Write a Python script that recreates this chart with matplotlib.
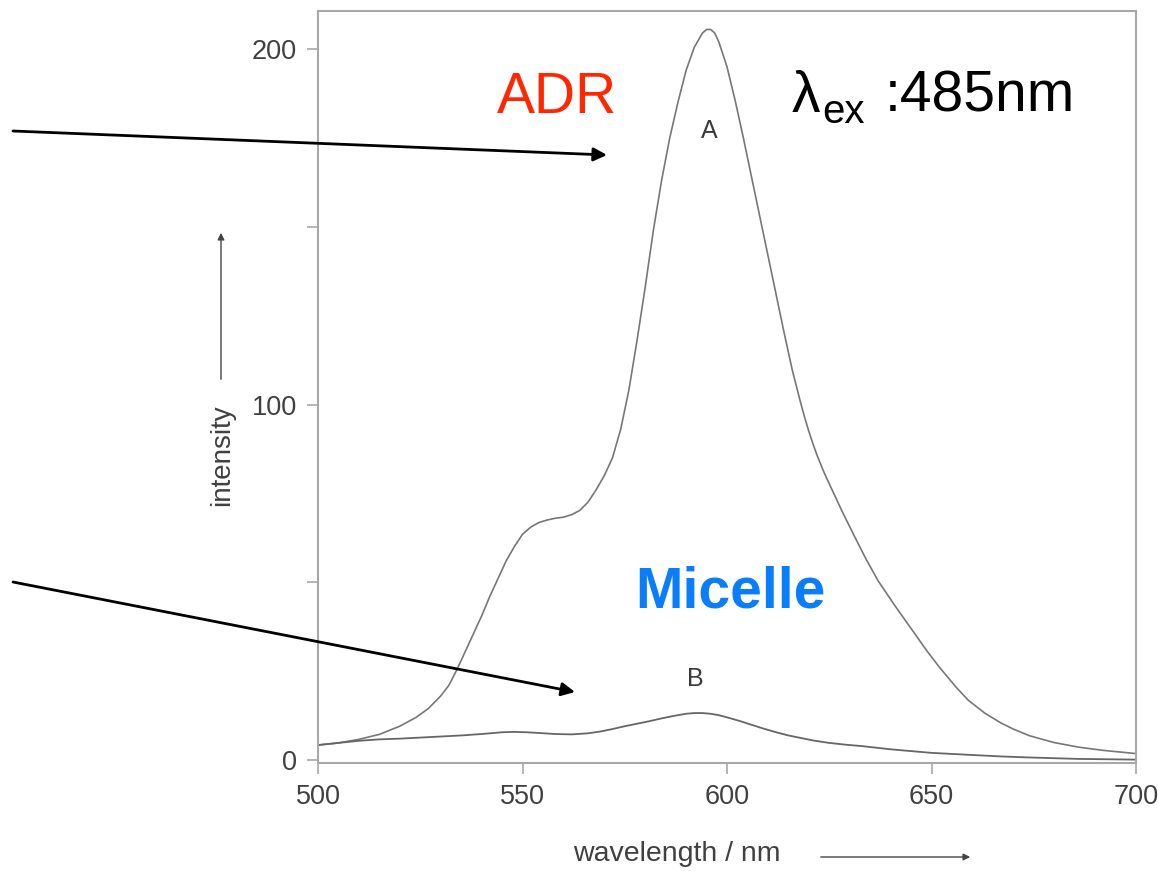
import matplotlib.pyplot as plt

plt.rcParams['font.family'] = ['Liberation Sans', 'DejaVu Sans']

# curve A (ADR)
wl_a = [500, 505, 510, 515, 520, 524, 527, 530, 532, 534, 536, 538, 540, 542,
        544, 546, 548, 550, 552, 554, 556, 558, 560, 562, 564, 566, 568, 570,
        572, 574, 576, 578, 580, 582, 584, 586, 588, 590, 592, 594, 595, 596,
        597, 598, 600, 602, 604, 606, 608, 610, 612, 614, 616, 618, 619, 620,
        621, 622, 623.5, 625, 628, 631, 634, 637, 641, 645, 649, 652, 656, 659,
        663, 667, 670, 674, 680, 686, 692, 700]
int_a = [4.2, 4.8, 5.8, 7.2, 9.5, 12, 14.5, 18, 21, 25.5, 30.5, 35.5, 40.5, 46,
         51, 56, 60, 63.5, 65.5, 66.8, 67.5, 68, 68.3, 69, 70.2, 72.5, 76, 80,
         85, 93, 104, 118, 133, 149, 163, 175, 185, 194, 200.5, 204.5, 205.5, 205.5,
         204.5, 202, 195, 185.5, 175, 164, 153, 142, 131, 120, 109.5, 100.5, 96.3, 92.5,
         89, 85.8, 81.5, 77.7, 70.3, 63.3, 56.5, 50.3, 43.5, 37, 30.5, 26, 20.5, 16.8,
         13.2, 10.4, 8.7, 6.8, 4.9, 3.6, 2.7, 1.8]

# curve B (micelle)
wl_b = [500, 505, 510, 515, 520, 525, 530, 535, 540, 545, 548, 551, 554, 558,
        562, 566, 569, 572, 575, 578, 581, 584, 587, 590, 592, 594, 596, 598,
        600, 603, 606, 609, 612, 615, 618, 621, 625, 629, 633, 640, 645, 650,
        655, 660, 667, 674, 680, 686, 693, 700]
int_b = [4.2, 4.8, 5.4, 5.8, 6.0, 6.3, 6.6, 6.9, 7.3, 7.8, 7.9, 7.8, 7.6, 7.3,
         7.2, 7.5, 8.0, 8.7, 9.5, 10.2, 10.9, 11.7, 12.4, 13.0, 13.2, 13.2, 13.0, 12.6,
         12.0, 11.0, 9.9, 8.8, 7.8, 6.9, 6.2, 5.5, 4.8, 4.3, 3.9, 3.0, 2.5, 2.0,
         1.7, 1.4, 1.0, 0.7, 0.5, 0.3, 0.2, 0.1]

x_ticks = [500, 550, 600, 650, 700]
y_major = [0, 100, 200]
y_minor = [50, 150]

W, H = 1158, 871


def fx(px):
    return px / W


def fy(py):
    return 1 - py / H


fig = plt.figure(figsize=(W / 100, H / 100), dpi=100)
ax = fig.add_axes([fx(318), fy(763), (1136 - 318) / W, (763 - 11) / H])

ax.plot(wl_a, int_a, color='#777777', lw=1.2)
ax.plot(wl_b, int_b, color='#666666', lw=1.3)

ax.set_xlim(500, 700)
ax.set_ylim(-0.85, 210.7)
ax.set_xticks(x_ticks)
ax.set_yticks(y_major)
ax.set_yticks(y_minor, minor=True)

for s in ax.spines.values():
    s.set_color('#a8a8a8')
    s.set_linewidth(1.5)
ax.tick_params(which='both', direction='out', length=8, width=1.2,
               color='#a8a8a8', labelcolor='#404040', labelsize=19.5, pad=7)

ax.text(595.6, 177, 'A', ha='center', va='center', fontsize=18, color='#3a3a3a')
ax.text(592.2, 22.8, 'B', ha='center', va='center', fontsize=18, color='#3a3a3a')

# axis labels with their little arrows
fig.text(fx(222), fy(455), 'intensity', rotation=90, ha='center', va='center',
         fontsize=20, color='#404040')
fig.text(fx(677), fy(854), 'wavelength / nm', ha='center', va='center',
         fontsize=20.5, color='#404040')
ax.annotate('', xy=(fx(221), fy(230)), xytext=(fx(221), fy(382)),
            xycoords='figure fraction', textcoords='figure fraction',
            arrowprops=dict(arrowstyle='-|>', color='#444444', lw=1.0,
                            mutation_scale=10))
ax.annotate('', xy=(fx(973), fy(857)), xytext=(fx(818), fy(857)),
            xycoords='figure fraction', textcoords='figure fraction',
            arrowprops=dict(arrowstyle='-|>', color='#444444', lw=1.0,
                            mutation_scale=10))

# annotations
fig.text(fx(557), fy(113), 'ADR', ha='center', va='baseline', fontsize=41,
         color='#FF2600')
fig.text(fx(730), fy(608), 'Micelle', ha='center', va='baseline', fontsize=41,
         fontweight='bold', color='#0A7EFA')
fig.text(fx(792), fy(112), 'λ', ha='left', va='baseline', fontsize=41, color='black')
fig.text(fx(822), fy(123), 'ex', ha='left', va='baseline', fontsize=29, color='black')
fig.text(fx(885), fy(112), ':485nm', ha='left', va='baseline', fontsize=41, color='black')

ax.annotate('', xy=(fx(607), fy(155)), xytext=(fx(13), fy(131)),
            xycoords='figure fraction', textcoords='figure fraction',
            arrowprops=dict(arrowstyle='-|>', color='black', lw=2.0,
                            mutation_scale=20, shrinkA=0, shrinkB=0))
ax.annotate('', xy=(fx(575), fy(692)), xytext=(fx(13), fy(582)),
            xycoords='figure fraction', textcoords='figure fraction',
            arrowprops=dict(arrowstyle='-|>', color='black', lw=2.0,
                            mutation_scale=20, shrinkA=0, shrinkB=0))

fig.savefig('out.png', dpi=100)
